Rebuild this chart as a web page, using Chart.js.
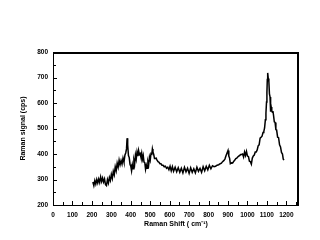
<!DOCTYPE html>
<html><head><meta charset="utf-8">
<script src="https://cdn.jsdelivr.net/npm/chart.js@4"></script>
<style>html,body{margin:0;padding:0;background:#fff}#w{width:320px;height:240px}</style>
</head><body><div id="w"><canvas id="c" width="320" height="240"></canvas></div>
<script>
const shift = [205,210,215,220,225,230,235,240,245,250,255,260,265,270,275,280,285,290,295,300,305,310,315,320,325,330,335,340,345,350,355,360,365,370,374,378,381,384,388,392,396,400,404,408,412,416,420,424,428,432,436,440,444,448,452,456,460,464,468,472,476,480,484,488,492,496,500,504,508,511,514,518,522,526,530,535,540,545,550,555,560,566,572,578,584,590,596,602,608,614,620,628,636,644,652,660,668,676,684,692,700,708,716,724,732,740,748,756,764,772,780,788,796,804,812,820,828,836,844,852,860,866,872,878,884,890,895,900,904,908,912,916,920,925,930,935,940,945,950,955,960,965,970,975,980,985,990,995,1000,1005,1010,1015,1020,1025,1030,1035,1040,1045,1050,1055,1060,1065,1070,1075,1080,1084,1088,1092,1095,1098,1100,1102,1104,1107,1110,1113,1116,1119,1122,1125,1128,1131,1134,1138,1142,1146,1150,1155,1160,1165,1170,1175,1180,1184,1188];
const signal = [290,276,296,282,300,286,302,288,310,292,306,290,302,280,276,300,286,308,296,320,304,332,318,350,334,364,348,376,358,374,360,384,368,396,404,420,462,436,394,386,360,352,334,358,342,376,362,396,380,408,392,414,398,402,388,404,380,394,368,366,340,356,344,370,358,388,376,402,400,420,408,398,382,382,384,376,370,368,362,362,356,356,350,352,344,348,338,352,334,350,332,348,330,346,328,344,326,348,330,344,324,346,328,342,326,348,332,344,328,350,334,352,338,356,342,354,350,352,356,358,362,364,370,374,380,394,404,414,392,384,362,364,366,366,372,376,382,384,388,392,394,398,398,400,388,408,394,410,392,390,372,370,360,384,392,396,408,408,416,432,436,462,466,470,484,488,502,534,560,604,640,692,718,696,684,636,624,566,584,570,564,568,552,526,524,496,494,466,464,436,428,406,400,380,376,356,350];
const xTicks = [0,100,200,300,400,500,600,700,800,900,1000,1100,1200];
const yTicks = [200,300,400,500,600,700,800];
const xMinor = [50,150,250,350,450,550,650,750,850,950,1050,1150,1250];
const yMinor = [250,350,450,550,650,750];

const pts = shift.map((x,i)=>({x:x,y:signal[i]}));
const tickFont = {family:'"Liberation Sans", Arial, sans-serif', size:6.5, weight:'bold'};
const titleFont = {family:'"Liberation Sans", Arial, sans-serif', size:7, weight:'bold'};

const frame = {
  id:'frame',
  afterDatasetsDraw(chart){
    const {ctx, chartArea:a, scales:{x, y}} = chart;
    ctx.save();
    ctx.strokeStyle = '#000';
    ctx.lineWidth = 1;
    ctx.beginPath();
    ctx.moveTo(a.left+0.5, a.top); ctx.lineTo(a.left+0.5, a.bottom+0.5);
    ctx.lineTo(a.right, a.bottom+0.5);
    ctx.stroke();
    ctx.lineWidth = 2;
    ctx.beginPath();
    ctx.moveTo(a.left, a.top+1); ctx.lineTo(a.right-1, a.top+1); ctx.lineTo(a.right-1, a.bottom+1);
    ctx.stroke();
    ctx.lineWidth = 1;
    ctx.beginPath();
    xTicks.forEach(v=>{const p=Math.round(x.getPixelForValue(v))+0.5; ctx.moveTo(p,a.bottom); ctx.lineTo(p,a.bottom-4);});
    xMinor.forEach(v=>{const p=Math.round(x.getPixelForValue(v))+0.5; if(p<a.right-2){ctx.moveTo(p,a.bottom); ctx.lineTo(p,a.bottom-3);}});
    yTicks.forEach(v=>{const p=Math.round(y.getPixelForValue(v))+0.5; ctx.moveTo(a.left,p); ctx.lineTo(a.left+4,p);});
    yMinor.forEach(v=>{const p=Math.round(y.getPixelForValue(v))+0.5; ctx.moveTo(a.left,p); ctx.lineTo(a.left+3,p);});
    ctx.stroke();
    ctx.restore();
  }
};

new Chart(document.getElementById('c'), {
  type:'line',
  data:{datasets:[{data:pts, borderColor:'#000', borderWidth:1.5, pointRadius:0, tension:0, fill:false}]},
  options:{
    responsive:false, animation:false, devicePixelRatio:1,
    layout:{padding:{left:0, top:52, right:21, bottom:0}},
    plugins:{legend:{display:false}, tooltip:{enabled:false}},
    scales:{
      x:{type:'linear', min:0, max:1265,
        afterBuildTicks(s){ s.ticks = xTicks.map(v=>({value:v})); },
        afterFit(s){ s.height = 35; },
        grid:{display:false, drawTicks:false}, border:{display:false},
        ticks:{font:tickFont, color:'#000', padding:6, maxRotation:0, autoSkip:false, callback:v=>String(v)},
        title:{display:true, text:'Raman Shift ( cm\u207B\u00B9)', font:titleFont, color:'#000', padding:{top:2,bottom:12}}
      },
      y:{type:'linear', min:200, max:800,
        afterBuildTicks(s){ s.ticks = yTicks.map(v=>({value:v})); },
        afterFit(s){ s.width = 53; },
        grid:{display:false, drawTicks:false}, border:{display:false},
        ticks:{font:tickFont, color:'#000', padding:5, autoSkip:false, callback:v=>String(v)},
        title:{display:true, text:'Raman signal (cps)', font:titleFont, color:'#000', padding:{top:19,bottom:0}}
      }
    }
  },
  plugins:[frame]
});
</script></body></html>
